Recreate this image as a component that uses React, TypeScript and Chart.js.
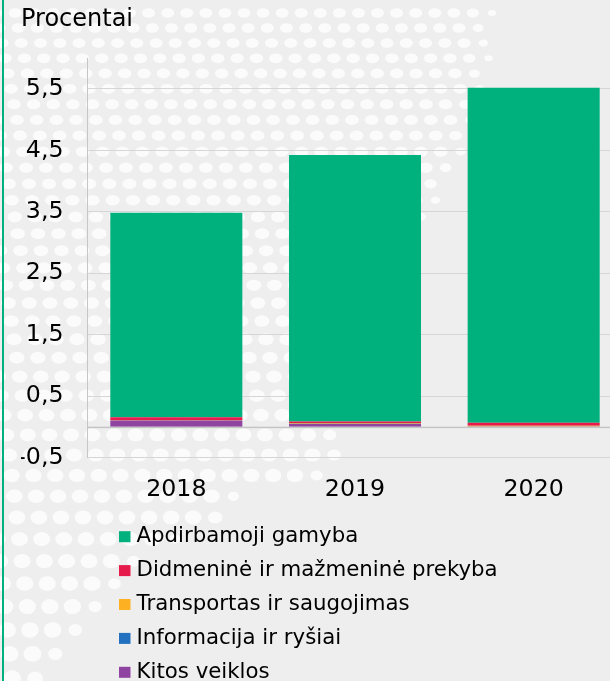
import React, { useEffect, useRef } from 'react';
import { Chart, registerables } from 'chart.js';

Chart.register(...registerables);

// ---- data ----
const CATEGORIES = ['2018', '2019', '2020'];
const LABEL_APDIRBAMOJI = 'Apdirbamoji gamyba';
const LABEL_DIDMENINE = 'Didmeninė ir mažmeninė prekyba';
const LABEL_TRANSPORTAS = 'Transportas ir saugojimas';
const LABEL_INFORMACIJA = 'Informacija ir ryšiai';
const LABEL_KITOS = 'Kitos veiklos';

const KITOS = [0.1, 0.045, 0.005];
const INFORMACIJA = [0.0, 0.005, 0.0];
const TRANSPORTAS = [0.005, 0.01, 0.01];
const DIDMENINE = [0.05, 0.025, 0.05];
const APDIRBAMOJI = [3.33, 4.34, 5.455];

const Y_TICKS = [-0.5, 0.5, 1.5, 2.5, 3.5, 4.5, 5.5];
const Y_MIN = -0.5;
const Y_MAX = 6;

// ---- styles ----
const FONT = '"DejaVu Sans", Verdana, sans-serif';
const C_GREEN = '#00B07D';
const C_RED = '#E61A4B';
const C_ORANGE = '#FDB022';
const C_BLUE = '#2270C0';
const C_PURPLE = '#8E44A0';
const BG = '#EEEEEE';
const TEXT = '#000000';

const W = 623;
const H = 681;

const DOT_BOUND: [number, number][] = [
  [0, 495], [90, 487], [150, 472], [185, 447], [230, 425], [300, 400],
  [400, 370], [440, 340], [470, 358], [490, 240], [520, 232], [545, 160],
  [575, 130], [610, 102], [650, 70], [681, 50],
];

function boundAt(y: number) {
  for (let i = 1; i < DOT_BOUND.length; i++) {
    const [y0, x0] = DOT_BOUND[i - 1];
    const [y1, x1] = DOT_BOUND[i];
    if (y <= y1) {
      const f = (y - y0) / (y1 - y0);
      return x0 + (x1 - x0) * f;
    }
  }
  return DOT_BOUND[DOT_BOUND.length - 1][1];
}

function drawDots(ctx: CanvasRenderingContext2D, h: number) {
  ctx.save();
  ctx.fillStyle = '#FBFBFB';
  let y = 13;
  let row = 0;
  while (y < h + 15) {
    const t = Math.min(1, y / h);
    const hs = 19 + 4 * t;
    const vs = 15 + 10 * Math.pow(t, 1.5);
    const rx = hs * (0.34 + 0.05 * t);
    const ry = vs * 0.32;
    const bound = boundAt(y);
    let x = ((row * 3) % hs) - 4;
    for (; x < bound; x += hs) {
      if (x < -rx) continue;
      const fade = Math.max(0, Math.min(1, (bound - x) / 25));
      const s = 0.6 + 0.4 * fade;
      ctx.beginPath();
      ctx.ellipse(x, y, rx * s, ry * s, 0, 0, Math.PI * 2);
      ctx.fill();
    }
    y += vs;
    row++;
  }
  ctx.restore();
}

const backgroundPlugin = {
  id: 'bgDots',
  beforeDraw(chart: any) {
    const ctx = chart.ctx as CanvasRenderingContext2D;
    ctx.save();
    ctx.fillStyle = BG;
    ctx.fillRect(0, 0, chart.width, chart.height);
    drawDots(ctx, chart.height);
    ctx.fillStyle = C_GREEN;
    ctx.fillRect(2, 0, 2, chart.height);
    ctx.restore();
  },
};

const zeroLinePlugin = {
  id: 'zeroLine',
  afterDatasetsDraw(chart: any) {
    const { ctx, chartArea, scales } = chart;
    const y = scales.y.getPixelForValue(0);
    ctx.save();
    ctx.fillStyle = '#C4C4C4';
    ctx.fillRect(chartArea.left, y, chartArea.right - chartArea.left, 1.4);
    ctx.restore();
  },
};

const LEGEND_X = 119;
const LEGEND_TOP = 536.7;
const LEGEND_ROW = 33.9;

const columnLegendPlugin = {
  id: 'columnLegend',
  afterDraw(chart: any) {
    const ctx = chart.ctx as CanvasRenderingContext2D;
    const items = chart.data.datasets
      .map((d: any) => ({ label: d.label, color: d.backgroundColor }))
      .reverse();
    ctx.save();
    ctx.font = `21.3px ${FONT}`;
    ctx.textBaseline = 'middle';
    ctx.textAlign = 'left';
    items.forEach((it: any, i: number) => {
      const cy = LEGEND_TOP + i * LEGEND_ROW;
      ctx.fillStyle = it.color;
      ctx.fillRect(LEGEND_X, cy - 5.5, 11.5, 11);
      ctx.fillStyle = TEXT;
      ctx.fillText(it.label, LEGEND_X + 17.5, cy);
    });
    ctx.restore();
  },
};

export default function App() {
  const ref = useRef<HTMLCanvasElement | null>(null);

  useEffect(() => {
    if (!ref.current) return;
    const chart = new Chart(ref.current, {
      type: 'bar',
      data: {
        labels: CATEGORIES,
        datasets: [
          { label: LABEL_KITOS, data: KITOS, backgroundColor: C_PURPLE },
          { label: LABEL_INFORMACIJA, data: INFORMACIJA, backgroundColor: C_BLUE },
          { label: LABEL_TRANSPORTAS, data: TRANSPORTAS, backgroundColor: C_ORANGE },
          { label: LABEL_DIDMENINE, data: DIDMENINE, backgroundColor: C_RED },
          { label: LABEL_APDIRBAMOJI, data: APDIRBAMOJI, backgroundColor: C_GREEN },
        ],
      },
      options: {
        responsive: false,
        animation: false,
        devicePixelRatio: 1,
        layout: { padding: { left: 21, top: 0, right: 0, bottom: 150 } },
        datasets: {
          bar: {
            categoryPercentage: 1,
            barPercentage: 0.739,
            borderWidth: 0,
          },
        },
        scales: {
          x: {
            stacked: true,
            grid: { display: false, drawTicks: false },
            border: { display: false },
            ticks: {
              color: TEXT,
              font: { family: FONT, size: 23.7 },
              padding: 18.2,
              maxRotation: 0,
            },
            afterFit: (s: any) => {
              s.height = H - 150 - 457.4;
            },
          },
          y: {
            stacked: true,
            min: Y_MIN,
            max: Y_MAX,
            afterBuildTicks: (s: any) => {
              s.ticks = Y_TICKS.map((v) => ({ value: v }));
            },
            afterFit: (s: any) => {
              s.width = 66;
            },
            grid: { color: '#D6D6D6', lineWidth: 1, drawTicks: false },
            border: { display: true, color: '#C6C6C6', width: 1 },
            ticks: {
              color: TEXT,
              font: { family: FONT, size: 23.7 },
              padding: 23.5,
              callback: (v: any) => String(v).replace('.', ','),
            },
          },
        },
        plugins: {
          legend: { display: false },
          tooltip: { enabled: false },
          title: {
            display: true,
            text: 'Procentai',
            align: 'start',
            color: TEXT,
            font: { family: FONT, size: 24, weight: 'normal' },
            padding: { top: 5.6, bottom: 23.9 },
          },
        },
      },
      plugins: [backgroundPlugin, zeroLinePlugin, columnLegendPlugin],
    } as any);
    return () => chart.destroy();
  }, []);

  return (
    <div
      style={{
        position: 'absolute',
        left: 0,
        top: 0,
        width: 610,
        height: 681,
        overflow: 'hidden',
        background: BG,
      }}
    >
      <canvas ref={ref} width={W} height={H} style={{ display: 'block' }} />
    </div>
  );
}
